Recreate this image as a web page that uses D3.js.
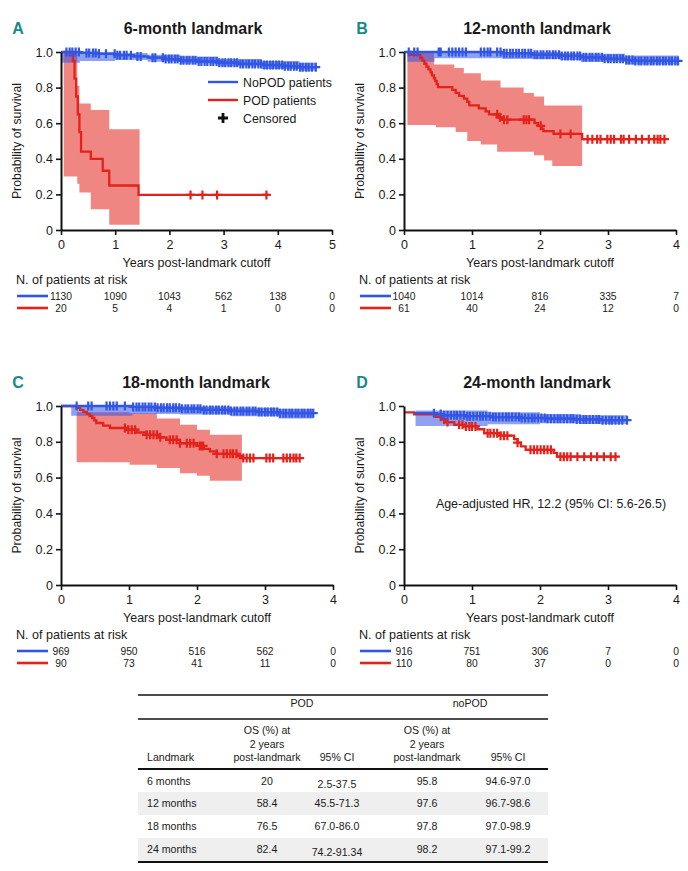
<!DOCTYPE html>
<html><head><meta charset="utf-8">
<script src="https://cdn.jsdelivr.net/npm/d3@7"></script>
<style>body{margin:0;background:#fff}svg{display:block}text{font-family:"Liberation Sans",Arial,sans-serif;fill:#1a1a1a}</style>
</head><body><svg id="c" width="688" height="871"></svg>
<script>
// ---------- DATA ----------
const panelTitles = ["6-month landmark","12-month landmark","18-month landmark","24-month landmark"];
const panelLetters = ["A","B","C","D"];
const xMaxYears = [5,4,4,4];
const yTicks = [0,0.2,0.4,0.6,0.8,1.0];

// Panel A (6-month)
const aBlueSteps = [[0,1],[0.35,0.995],[0.7,0.99],[1.0,0.982],[1.3,0.975],[1.6,0.968],[1.9,0.96],[2.2,0.953],[2.5,0.947],[2.9,0.94],[3.3,0.933],[3.7,0.927],[4.1,0.92],[4.4,0.915],[4.72,0.915]];
const aBlueCI = [[0,0.94,1.0],[0.35,0.95,1.0],[1.0,0.955,0.995],[1.6,0.945,0.985],[2.2,0.935,0.975],[2.9,0.92,0.96],[3.7,0.905,0.95],[4.4,0.895,0.94],[4.72,0.895,0.94]];
const aBlueCens = [0.1,0.16,0.21,0.27,0.33,0.47,0.52,0.59,0.64,0.7,0.83,0.99,1.04,1.09,1.16,1.21,1.29,1.41,1.47,1.69,1.74,1.88,1.93,1.99,2.04,2.1,2.15,2.21,2.26,2.32,2.37,2.43,2.48,2.54,2.59,2.65,2.7,2.76,2.81,2.87,2.92,2.98,3.03,3.09,3.14,3.2,3.25,3.31,3.36,3.42,3.47,3.53,3.58,3.64,3.69,3.75,3.8,3.86,3.91,3.97,4.02,4.08,4.13,4.19,4.24,4.3,4.35,4.41,4.46,4.52,4.57,4.63,4.7];
const aRedSteps = [[0.05,1.0],[0.22,0.95],[0.25,0.85],[0.28,0.75],[0.31,0.65],[0.34,0.55],[0.37,0.44],[0.55,0.40],[0.77,0.333],[0.89,0.25],[1.43,0.197],[3.84,0.197]];
const aRedCI = [[0.05,0.30,1.0],[0.30,0.26,0.81],[0.34,0.21,0.71],[0.55,0.116,0.674],[0.89,0.03,0.566],[1.45,0.03,0.566]];
const aRedCens = [2.39,2.61,2.88,3.79];
const aRiskBlue = [1130,1090,1043,562,138,0];
const aRiskRed = [20,5,4,1,0,0];

// Panel B (12-month)
const bBlueSteps = [[0,1.0],[1.45,0.993],[1.9,0.985],[2.3,0.978],[2.6,0.97],[2.95,0.962],[3.25,0.955],[3.4,0.95],[4.04,0.95]];
const bBlueCI = [[0.05,0.945,1.0],[0.45,0.965,1.0],[1.45,0.96,1.0],[2.3,0.955,0.995],[2.6,0.945,0.99],[3.25,0.93,0.98],[4.04,0.93,0.98]];
const bBlueCens = [0.07,0.15,0.2,0.51,0.54,0.66,0.71,0.76,0.81,0.86,0.91,1.13,1.18,1.23,1.27,1.37,1.42,1.47,1.51,1.56,1.6,1.65,1.69,1.74,1.78,1.83,1.87,1.92,1.96,2.01,2.05,2.1,2.14,2.19,2.23,2.28,2.32,2.37,2.41,2.46,2.5,2.55,2.59,2.64,2.68,2.73,2.77,2.82,2.86,2.91,2.95,3.0,3.04,3.09,3.13,3.18,3.22,3.27,3.31,3.36,3.4,3.45,3.49,3.54,3.58,3.63,3.67,3.72,3.76,3.81,3.85,3.9,3.94,3.99,4.03];
const bRedSteps = [[0.05,1.0],[0.1,0.984],[0.24,0.967],[0.27,0.951],[0.3,0.934],[0.33,0.918],[0.36,0.902],[0.39,0.885],[0.41,0.869],[0.44,0.852],[0.46,0.836],[0.48,0.82],[0.5,0.803],[0.71,0.787],[0.76,0.77],[0.81,0.754],[0.88,0.738],[0.93,0.72],[0.96,0.70],[1.1,0.683],[1.2,0.666],[1.25,0.65],[1.4,0.633],[1.45,0.62],[1.92,0.60],[1.97,0.585],[2.02,0.57],[2.05,0.555],[2.2,0.54],[2.62,0.51],[3.85,0.51]];
const bRedCI = [[0.05,0.59,1.0],[0.44,0.59,0.93],[0.47,0.577,0.93],[0.74,0.577,0.91],[0.76,0.55,0.91],[0.88,0.55,0.88],[0.93,0.50,0.88],[1.13,0.48,0.84],[1.37,0.44,0.84],[1.42,0.44,0.80],[1.76,0.44,0.77],[1.91,0.42,0.75],[2.06,0.39,0.70],[2.18,0.36,0.70],[2.62,0.36,0.70]];
const bRedCens = [1.37,1.41,1.47,1.52,1.76,1.80,1.84,2.01,2.30,2.45,2.70,2.77,2.84,2.89,2.99,3.04,3.09,3.19,3.23,3.31,3.41,3.50,3.60,3.68,3.73,3.77,3.83];
const bRiskBlue = [1040,1014,816,335,7];
const bRiskRed = [61,40,24,12,0];

// Panel C (18-month)
const cBlueSteps = [[0,1.0],[1.05,0.995],[1.4,0.99],[1.75,0.985],[2.1,0.978],[2.5,0.972],[2.9,0.966],[3.2,0.96],[3.71,0.96]];
const cBlueCI = [[0.15,0.945,1.0],[1.05,0.955,1.0],[1.75,0.952,0.997],[2.5,0.943,0.99],[3.2,0.93,0.985],[3.71,0.93,0.985]];
const cBlueCens = [0.23,0.4,0.45,0.67,0.72,0.77,0.82,0.94,1.06,1.11,1.15,1.2,1.24,1.29,1.33,1.38,1.42,1.47,1.51,1.56,1.6,1.65,1.69,1.74,1.78,1.83,1.87,1.92,1.96,2.01,2.05,2.1,2.14,2.19,2.23,2.28,2.32,2.37,2.41,2.46,2.5,2.55,2.59,2.64,2.68,2.73,2.77,2.82,2.86,2.91,2.95,3.0,3.04,3.09,3.13,3.18,3.22,3.27,3.31,3.36,3.4,3.45,3.49,3.54,3.58,3.63,3.67,3.71];
const cRedSteps = [[0,1.0],[0.23,0.989],[0.28,0.978],[0.33,0.967],[0.38,0.956],[0.42,0.944],[0.46,0.933],[0.49,0.92],[0.52,0.905],[0.62,0.89],[0.72,0.877],[0.97,0.868],[1.11,0.852],[1.26,0.839],[1.45,0.825],[1.55,0.811],[1.75,0.792],[2.0,0.777],[2.1,0.76],[2.19,0.746],[2.29,0.733],[2.6,0.72],[2.68,0.709],[3.51,0.709]];
const cRedCI = [[0.23,0.686,0.965],[1.01,0.672,0.96],[1.41,0.653,0.93],[1.75,0.625,0.895],[2.0,0.61,0.867],[2.19,0.582,0.839],[2.66,0.582,0.839]];
const cRedCens = [0.94,0.99,1.04,1.09,1.26,1.31,1.36,1.41,1.46,1.60,1.65,1.70,1.75,1.85,1.90,1.95,2.04,2.07,2.09,2.29,2.39,2.44,2.49,2.53,2.58,2.68,2.73,2.78,2.83,3.02,3.07,3.12,3.27,3.32,3.37,3.42,3.46,3.51];
const cRiskBlue = [969,950,516,562,0];
const cRiskRed = [90,73,41,11,0];

// Panel D (24-month)
const dBlueSteps = [[0.15,0.96],[0.45,0.955],[0.55,0.948],[0.9,0.943],[1.3,0.938],[1.7,0.933],[2.1,0.929],[2.5,0.925],[2.9,0.921],[3.28,0.921]];
const dBlueCI = [[0.17,0.888,0.975],[1.23,0.898,0.965],[2.0,0.903,0.955],[2.6,0.9,0.948],[3.28,0.9,0.948]];
const dBlueCens = [0.44,0.54,0.59,0.64,0.69,0.74,0.78,0.83,0.88,0.93,0.97,1.02,1.07,1.12,1.16,1.21,1.26,1.31,1.35,1.4,1.45,1.5,1.54,1.59,1.64,1.69,1.73,1.78,1.83,1.88,1.92,1.97,2.02,2.07,2.11,2.16,2.21,2.26,2.3,2.35,2.4,2.45,2.49,2.54,2.59,2.64,2.68,2.73,2.78,2.83,2.87,2.92,2.97,3.02,3.06,3.11,3.16,3.21,3.28];
const dRedSteps = [[0,0.964],[0.15,0.954],[0.47,0.94],[0.55,0.925],[0.6,0.91],[0.74,0.895],[0.88,0.886],[1.08,0.87],[1.18,0.848],[1.42,0.834],[1.62,0.815],[1.67,0.795],[1.72,0.774],[1.79,0.755],[2.2,0.738],[2.25,0.717],[3.14,0.717]];
const dRedCI = [];
const dRedCens = [0.54,0.59,0.64,0.81,0.86,0.91,0.96,1.0,1.05,1.23,1.27,1.32,1.37,1.42,1.47,1.52,1.67,1.86,1.91,1.96,2.01,2.06,2.11,2.16,2.3,2.35,2.4,2.45,2.55,2.65,2.75,2.84,2.94,3.04,3.11];
const dRiskBlue = [916,751,306,7,0];
const dRiskRed = [110,80,37,0,0];

// Legend / annotation / table
const legendLabels = ["NoPOD patients","POD patients","Censored"];
const hrText = "Age-adjusted HR, 12.2 (95% CI: 5.6-26.5)";
const tableLandmarks = ["6 months","12 months","18 months","24 months"];
const podOS = ["20","58.4","76.5","82.4"];
const podCI = ["2.5-37.5","45.5-71.3","67.0-86.0","74.2-91.34"];
const nopodOS = ["95.8","97.6","97.8","98.2"];
const nopodCI = ["94.6-97.0","96.7-98.6","97.0-98.9","97.1-99.2"];

// ---------- DRAW ----------
const BLUE = "#3156e6", RED = "#e3221c", TEAL = "#17898a";
const svg = d3.select("#c");

const layout = [
  {l:61, r:332, t:52, b:230, tx:18, titleX:193},
  {l:404, r:676, t:52, b:230, tx:362, titleX:537},
  {l:61, r:333, t:406, b:585, tx:18, titleX:196},
  {l:404, r:676, t:406, b:585, tx:362, titleX:537}
];
const series = [
  {bs:aBlueSteps, bci:aBlueCI, bc:aBlueCens, rs:aRedSteps, rci:aRedCI, rc:aRedCens, rb:aRiskBlue, rr:aRiskRed},
  {bs:bBlueSteps, bci:bBlueCI, bc:bBlueCens, rs:bRedSteps, rci:bRedCI, rc:bRedCens, rb:bRiskBlue, rr:bRiskRed},
  {bs:cBlueSteps, bci:cBlueCI, bc:cBlueCens, rs:cRedSteps, rci:cRedCI, rc:cRedCens, rb:cRiskBlue, rr:cRiskRed},
  {bs:dBlueSteps, bci:dBlueCI, bc:dBlueCens, rs:dRedSteps, rci:dRedCI, rc:dRedCens, rb:dRiskBlue, rr:dRiskRed}
];

function survAt(steps, t){ let s = steps[0][1]; for (const [tt,ss] of steps) if (tt <= t + 1e-9) s = ss; return s; }
function plusPath(x0,y0,h){ return `M${x0-h},${y0}H${x0+h}M${x0},${y0-h}V${y0+h}`; }

layout.forEach((L, i) => {
  const S = series[i];
  const x = d3.scaleLinear().domain([0, xMaxYears[i]]).range([L.l, L.r]);
  const y = d3.scaleLinear().domain([0, 1]).range([L.b, L.t]);
  const g = svg.append("g");

  // title & letter
  g.append("text").attr("x", L.titleX).attr("y", L.t - 18.5).attr("text-anchor","middle")
    .attr("font-size","16px").attr("font-weight","bold").text(panelTitles[i]);
  g.append("text").attr("x", L.tx).attr("y", L.t - 18.5).attr("text-anchor","middle")
    .attr("font-size","16px").attr("font-weight","bold").style("fill",TEAL)
    .attr("font-family","'Liberation Sans Narrow','DejaVu Sans Condensed',sans-serif").text(panelLetters[i]);

  const area = d3.area().x(d=>x(d[0])).y0(d=>y(d[1])).y1(d=>y(d[2])).curve(d3.curveStepAfter);
  const line = d3.line().x(d=>x(d[0])).y(d=>y(d[1])).curve(d3.curveStepAfter);

  if (S.rci.length) g.append("path").attr("d", area(S.rci)).attr("fill", RED).attr("fill-opacity",0.55);
  g.append("path").attr("d", area(S.bci)).attr("fill", BLUE).attr("fill-opacity",0.55);

  g.append("path").attr("d", line(S.rs)).attr("fill","none").attr("stroke",RED).attr("stroke-width",2.3);
  g.append("path").attr("d", S.rc.map(t => plusPath(x(t), y(survAt(S.rs,t)), 4.5)).join(""))
    .attr("stroke",RED).attr("stroke-width",2.2).attr("fill","none");

  g.append("path").attr("d", line(S.bs)).attr("fill","none").attr("stroke",BLUE).attr("stroke-width",2.3);
  g.append("path").attr("d", S.bc.map(t => plusPath(x(t), y(survAt(S.bs,t)), 4.5)).join(""))
    .attr("stroke",BLUE).attr("stroke-width",2.2).attr("fill","none");

  // axes
  const ya = g.append("g").attr("transform",`translate(${L.l},0)`)
    .call(d3.axisLeft(y).tickValues(yTicks).tickSize(5).tickSizeOuter(0).tickFormat(d => d===0 ? "0" : d3.format(".1f")(d)));
  const xa = g.append("g").attr("transform",`translate(0,${L.b})`)
    .call(d3.axisBottom(x).ticks(xMaxYears[i]).tickSize(5).tickSizeOuter(0).tickFormat(d3.format("d")));
  [ya, xa].forEach(a => {
    a.select(".domain").attr("stroke","#111").attr("stroke-width",2);
    a.selectAll(".tick line").attr("stroke","#111").attr("stroke-width",1.6);
    a.selectAll(".tick text").attr("font-size","12.5px").style("fill","#1a1a1a").attr("font-family","'Liberation Sans',Arial,sans-serif");
  });
  xa.selectAll(".tick text").attr("dy","0.9em");
  ya.selectAll(".tick text").attr("x",-8);

  g.append("text").attr("transform",`translate(${L.l-40},${(L.t+L.b)/2}) rotate(-90)`).attr("text-anchor","middle")
    .attr("font-size","12.3px").text("Probability of survival");
  g.append("text").attr("x",(L.l+L.r)/2).attr("y",L.b+36.5).attr("text-anchor","middle")
    .attr("font-size","12.5px").text("Years post-landmark cutoff");

  // risk table
  const lx = L.l - 45;
  g.append("text").attr("x", lx).attr("y", L.b+53.5).attr("font-size","12.6px").text("N. of patients at risk");
  g.append("line").attr("x1",lx+1).attr("x2",lx+32).attr("y1",L.b+66).attr("y2",L.b+66).attr("stroke",BLUE).attr("stroke-width",2.6);
  g.append("line").attr("x1",lx+1).attr("x2",lx+32).attr("y1",L.b+78).attr("y2",L.b+78).attr("stroke",RED).attr("stroke-width",2.6);
  S.rb.forEach((v,k) => g.append("text").attr("x",x(k)).attr("y",L.b+69.5).attr("text-anchor","middle").attr("font-size","10.3px").text(v));
  S.rr.forEach((v,k) => g.append("text").attr("x",x(k)).attr("y",L.b+81.5).attr("text-anchor","middle").attr("font-size","10.3px").text(v));
});

// Legend (panel A)
const lg = svg.append("g");
lg.append("line").attr("x1",208).attr("x2",238).attr("y1",82).attr("y2",82).attr("stroke",BLUE).attr("stroke-width",2.4);
lg.append("line").attr("x1",208).attr("x2",238).attr("y1",100).attr("y2",100).attr("stroke",RED).attr("stroke-width",2.4);
lg.append("path").attr("d",plusPath(223,118,5)).attr("stroke","#111").attr("stroke-width",2.8);
legendLabels.forEach((t,k) => lg.append("text").attr("x",243).attr("y",86.5+k*18).attr("font-size","12.3px").text(t));

// HR annotation (panel D)
svg.append("text").attr("x",551).attr("y",507.5).attr("text-anchor","middle").attr("font-size","12.4px").text(hrText);

// Table
const tb = svg.append("g");
const tL = 138, tR = 548;
const rowY = [781, 803, 826, 849];
[1,3].forEach(k => tb.append("rect").attr("x",tL).attr("width",tR-tL).attr("y",rowY[k]-11).attr("height",23).attr("fill","#efefef"));
tb.append("line").attr("x1",tL).attr("x2",tR).attr("y1",695).attr("y2",695).attr("stroke","#111").attr("stroke-width",1.6);
tb.append("line").attr("x1",tL).attr("x2",tR).attr("y1",719).attr("y2",719).attr("stroke","#111").attr("stroke-width",1.6);
tb.append("line").attr("x1",tL).attr("x2",tR).attr("y1",769).attr("y2",769).attr("stroke","#111").attr("stroke-width",2.2);
tb.append("line").attr("x1",tL).attr("x2",tR).attr("y1",862).attr("y2",862).attr("stroke","#111").attr("stroke-width",2.2);
const fs = "10.6px";
tb.append("text").attr("x",302).attr("y",707).attr("text-anchor","middle").attr("font-size",fs).text("POD");
tb.append("text").attr("x",470).attr("y",707).attr("text-anchor","middle").attr("font-size",fs).text("noPOD");
[267, 427].forEach(cx => {
  ["OS (%) at","2 years","post-landmark"].forEach((t,k) =>
    tb.append("text").attr("x",cx).attr("y",734+k*13.5).attr("text-anchor","middle").attr("font-size",fs).text(t));
});
[337, 508].forEach(cx => tb.append("text").attr("x",cx).attr("y",761).attr("text-anchor","middle").attr("font-size",fs).text("95% CI"));
tb.append("text").attr("x",147).attr("y",761).attr("font-size",fs).text("Landmark");
tableLandmarks.forEach((t,k) => {
  const yy = rowY[k] + 3.5;
  tb.append("text").attr("x",147).attr("y",yy).attr("font-size",fs).text(t);
  tb.append("text").attr("x",267).attr("y",yy).attr("text-anchor","middle").attr("font-size",fs).text(podOS[k]);
  tb.append("text").attr("x",337).attr("y",yy + (k===0||k===3 ? 3 : 0)).attr("text-anchor","middle").attr("font-size",fs).text(podCI[k]);
  tb.append("text").attr("x",427).attr("y",yy).attr("text-anchor","middle").attr("font-size",fs).text(nopodOS[k]);
  tb.append("text").attr("x",508).attr("y",yy).attr("text-anchor","middle").attr("font-size",fs).text(nopodCI[k]);
});
</script></body></html>
